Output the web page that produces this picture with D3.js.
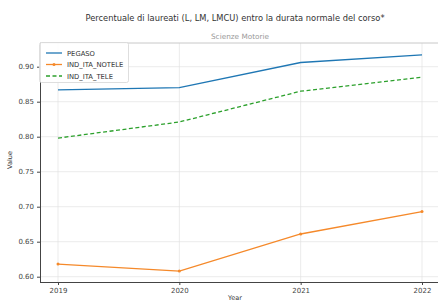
<!DOCTYPE html>
<html>
<head>
<meta charset="utf-8">
<script src="https://cdn.jsdelivr.net/npm/d3@7"></script>
<style>
  body { margin: 0; background: #fff; }
  text { font-family: "DejaVu Sans", sans-serif; }
</style>
</head>
<body>
<div id="viz-container"></div>
<script>
// data
let years = [2019, 2020, 2021, 2022];
let pegaso = [0.867, 0.870, 0.906, 0.917];
let indNotele = [0.618, 0.608, 0.661, 0.693];
let indTele = [0.798, 0.821, 0.865, 0.885];
let yTicks = [0.60, 0.65, 0.70, 0.75, 0.80, 0.85, 0.90];

let series = [
  { name: "PEGASO", values: pegaso, color: "#1f77b4", dash: null, marker: false },
  { name: "IND_ITA_NOTELE", values: indNotele, color: "#f5892a", dash: null, marker: true },
  { name: "IND_ITA_TELE", values: indTele, color: "#2ca02c", dash: "4,2.5", marker: false }
];

let viz = d3.select("#viz-container")
            .append("svg")
              .attr("width", 438)
              .attr("height", 301)
;

let plotL = 40, plotR = 440, plotT = 43, plotB = 282;

let x = d3.scaleLinear().domain([2019, 2022]).range([58, 422]);
let y = d3.scaleLinear().domain([0.60, 0.90]).range([276.7, 66.7]);

// title + subtitle
viz.append("text")
    .attr("x", 235).attr("y", 21)
    .attr("text-anchor", "middle")
    .attr("font-size", 8.3)
    .attr("fill", "#333")
    .text("Percentuale di laureati (L, LM, LMCU) entro la durata normale del corso*");

viz.append("text")
    .attr("x", 240).attr("y", 39)
    .attr("text-anchor", "middle")
    .attr("font-size", 7.3)
    .attr("fill", "#999")
    .text("Scienze Motorie");

// grid
viz.append("g").selectAll("line").data(yTicks).enter().append("line")
    .attr("x1", plotL).attr("x2", plotR)
    .attr("y1", d => y(d)).attr("y2", d => y(d))
    .attr("stroke", "#e3e3e3").attr("stroke-width", 0.7);

viz.append("g").selectAll("line").data(years).enter().append("line")
    .attr("y1", plotT).attr("y2", plotB)
    .attr("x1", d => x(d)).attr("x2", d => x(d))
    .attr("stroke", "#e3e3e3").attr("stroke-width", 0.7);

// frame
viz.append("line").attr("x1", plotL).attr("x2", plotR).attr("y1", plotT).attr("y2", plotT)
    .attr("stroke", "#c8c8c8").attr("stroke-width", 1);

// axes
let yAxis = viz.append("g")
    .attr("transform", "translate(" + plotL + ",0)")
    .call(d3.axisLeft(y).tickValues(yTicks).tickFormat(d3.format(".2f")).tickSize(3).tickPadding(3));
yAxis.select(".domain").attr("d", "M0.5," + plotT + "V" + plotB).attr("stroke", "#444");

let xAxis = viz.append("g")
    .attr("transform", "translate(0," + plotB + ")")
    .call(d3.axisBottom(x).tickValues(years).tickFormat(d3.format("d")).tickSize(3).tickPadding(3));
xAxis.select(".domain").attr("d", "M" + plotL + ",0.5H" + plotR).attr("stroke", "#444");

viz.selectAll(".tick text").attr("font-size", 7).attr("fill", "#444").attr("font-family", "DejaVu Sans");
viz.selectAll(".tick line").attr("stroke", "#444");

// axis labels
viz.append("text")
    .attr("x", 235).attr("y", 300)
    .attr("text-anchor", "middle")
    .attr("font-size", 6.5).attr("fill", "#333")
    .text("Year");

viz.append("text")
    .attr("transform", "translate(12,160) rotate(-90)")
    .attr("text-anchor", "middle")
    .attr("font-size", 6.5).attr("fill", "#333")
    .text("Value");

// lines
let line = d3.line()
    .x((d, i) => x(years[i]))
    .y(d => y(d));

series.forEach(s => {
  viz.append("path")
      .datum(s.values)
      .attr("d", line)
      .attr("fill", "none")
      .attr("stroke", s.color)
      .attr("stroke-width", 1.3)
      .attr("stroke-dasharray", s.dash);
  if (s.marker) {
    viz.append("g").selectAll("circle").data(s.values).enter().append("circle")
        .attr("cx", (d, i) => x(years[i]))
        .attr("cy", d => y(d))
        .attr("r", 1.5)
        .attr("fill", s.color);
  }
});

// legend
let legend = viz.append("g");
legend.append("rect")
    .attr("x", 39.5).attr("y", 42.5)
    .attr("width", 89).attr("height", 40)
    .attr("rx", 2)
    .attr("fill", "white").attr("fill-opacity", 0.85)
    .attr("stroke", "#d5d5d5").attr("stroke-width", 0.8);

let items = legend.selectAll("g.item").data(series).enter().append("g")
    .attr("transform", (d, i) => "translate(0," + (53 + i * 11.5) + ")");

items.append("line")
    .attr("x1", 46).attr("x2", 62)
    .attr("stroke", d => d.color)
    .attr("stroke-width", 1.3)
    .attr("stroke-dasharray", d => d.dash);

items.filter(d => d.marker).append("circle")
    .attr("cx", 54).attr("r", 1.5)
    .attr("fill", d => d.color);

items.append("text")
    .attr("x", 67).attr("y", 2.5)
    .attr("font-size", 6.8).attr("fill", "#333")
    .text(d => d.name);
</script>
</body>
</html>
